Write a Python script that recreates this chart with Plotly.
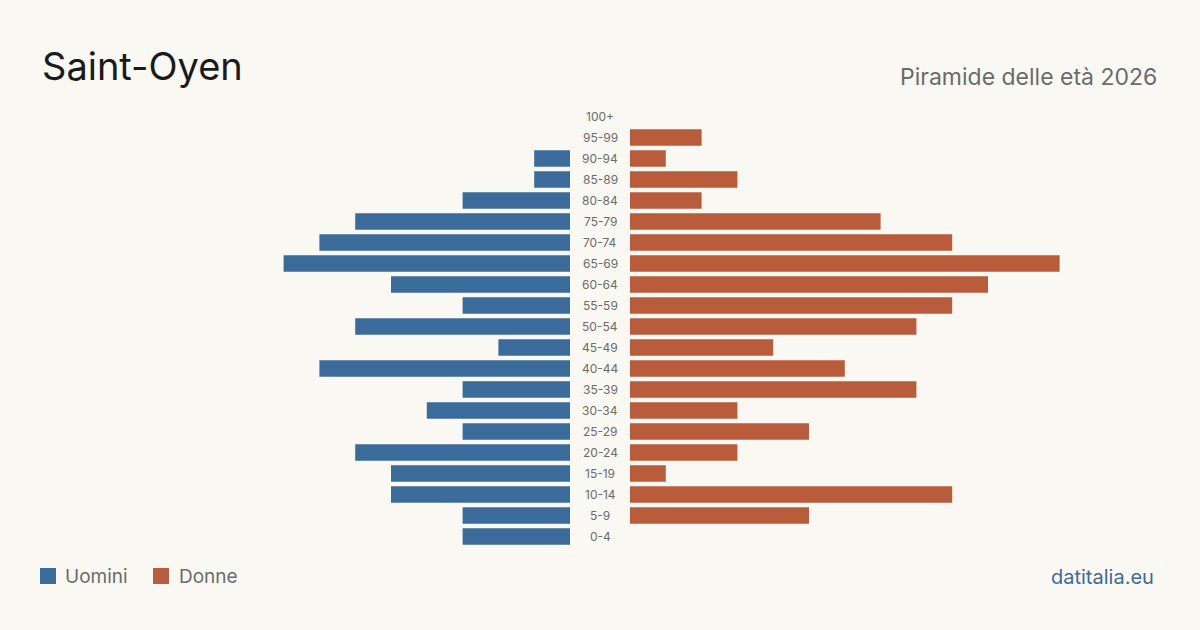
import plotly.graph_objects as go

age_groups = ["100+", "95-99", "90-94", "85-89", "80-84", "75-79", "70-74", "65-69",
              "60-64", "55-59", "50-54", "45-49", "40-44", "35-39", "30-34", "25-29",
              "20-24", "15-19", "10-14", "5-9", "0-4"]
men = [0, 0, 1, 1, 3, 6, 7, 8, 5, 3, 6, 2, 7, 3, 4, 3, 6, 5, 5, 3, 3]
women = [0, 2, 1, 3, 2, 7, 9, 12, 10, 9, 8, 4, 6, 8, 3, 5, 3, 1, 9, 5, 0]

title = "Saint-Oyen"
subtitle = "Piramide delle età 2026"
legend_men = "Uomini"
legend_women = "Donne"
source = "datitalia.eu"

BLUE = "#3b6b9b"
ORANGE = "#b95c3b"
BG = "#f9f8f3"
GRAY = "#6b6b6b"
FONT = "Inter, 'Noto Sans', sans-serif"

W, H = 1200, 630
xmax = 570 / 35.8

fig = go.Figure()
fig.add_trace(go.Bar(y=age_groups, x=men, orientation="h", marker_color=BLUE,
                     marker_line_width=0,
                     xaxis="x", yaxis="y", name=legend_men, showlegend=False,
                     hoverinfo="x+y"))
fig.add_trace(go.Bar(y=age_groups, x=women, orientation="h", marker_color=ORANGE,
                     marker_line_width=0,
                     xaxis="x2", yaxis="y", name=legend_women, showlegend=False,
                     hoverinfo="x+y"))

y_bottom = (H - 547) / H
y_top = (H - 106) / H

fig.update_layout(
    width=W, height=H,
    margin=dict(l=0, r=0, t=0, b=0),
    paper_bgcolor=BG, plot_bgcolor=BG,
    bargap=0.21,
    font=dict(family=FONT, color=GRAY),
    xaxis=dict(domain=[0, 570 / W], range=[xmax, 0], visible=False, fixedrange=True,
               showgrid=False, zeroline=False),
    xaxis2=dict(domain=[630 / W, 1.0], range=[0, xmax], visible=False, fixedrange=True,
                showgrid=False, zeroline=False),
    yaxis=dict(domain=[y_bottom, y_top], categoryorder="array",
               categoryarray=list(reversed(age_groups)),
               range=[-0.5, len(age_groups) - 0.5], visible=False, fixedrange=True,
               showgrid=False, zeroline=False),
)

for g in age_groups:
    fig.add_annotation(x=600 / W, xref="paper", y=g, yref="y", text=g,
                       showarrow=False, xanchor="center", yanchor="middle",
                       font=dict(size=12, color=GRAY, family=FONT))

fig.add_annotation(x=40 / W, y=1 - 66 / H, xref="paper", yref="paper", text=title,
                   showarrow=False, xanchor="left", yanchor="middle",
                   font=dict(size=38, color="#1a1a1a", family=FONT))
fig.add_annotation(x=1159 / W, y=1 - 77 / H, xref="paper", yref="paper", text=subtitle,
                   showarrow=False, xanchor="right", yanchor="middle",
                   font=dict(size=23, color=GRAY, family=FONT))

# legend
fig.add_shape(type="rect", xref="paper", yref="paper",
              x0=40 / W, x1=56 / W, y0=1 - 584 / H, y1=1 - 568 / H,
              fillcolor=BLUE, line=dict(width=0))
fig.add_annotation(x=63 / W, y=1 - 576.5 / H, xref="paper", yref="paper", text=legend_men,
                   showarrow=False, xanchor="left", yanchor="middle",
                   font=dict(size=19, color=GRAY, family=FONT))
fig.add_shape(type="rect", xref="paper", yref="paper",
              x0=153 / W, x1=169 / W, y0=1 - 584 / H, y1=1 - 568 / H,
              fillcolor=ORANGE, line=dict(width=0))
fig.add_annotation(x=177 / W, y=1 - 576.5 / H, xref="paper", yref="paper", text=legend_women,
                   showarrow=False, xanchor="left", yanchor="middle",
                   font=dict(size=19, color=GRAY, family=FONT))
fig.add_annotation(x=1156 / W, y=1 - 576.5 / H, xref="paper", yref="paper", text=source,
                   showarrow=False, xanchor="right", yanchor="middle",
                   font=dict(size=20, color=BLUE, family=FONT))

fig.write_html("out.html")
